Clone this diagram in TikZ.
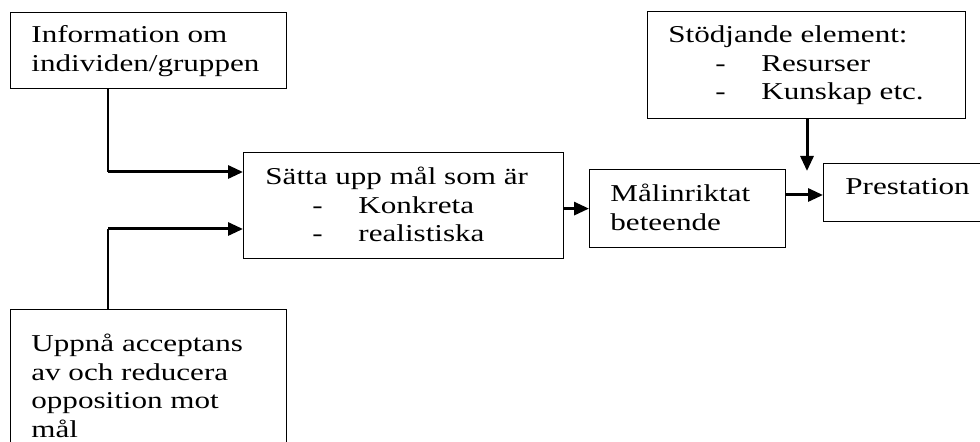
\documentclass[tikz,border=0pt]{standalone}
\usepackage{fontspec}
\setmainfont[FakeStretch=1.285]{Liberation Serif}
\usetikzlibrary{arrows.meta,positioning,calc}
\newcommand{\punkt}[1]{\hspace*{23.5pt}\makebox[23pt][l]{-}#1}
\tikzset{x=0.5pt,y=-0.5pt,
    ruta/.style={draw,line width=0.6pt,anchor=north west,inner sep=0pt},
    txt/.style={anchor=base west,align=left,inner sep=0pt,
        font=\fontsize{12.1}{14.25}\selectfont},
    tunn/.style={line width=0.6pt},
    pil/.style={line width=1.5pt,-{Triangle[length=7.5pt,width=6.5pt]}}}

\begin{document}
\begin{tikzpicture}
\clip (0,0) rectangle (980,442);
% rutorna
\node[ruta,minimum width=138pt,minimum height=38pt]   (info)  at (10,12)  {};
\node[ruta,minimum width=138pt,minimum height=75pt]   (uppna) at (10,309) {};
\node[ruta,minimum width=160pt,minimum height=53pt]   (mal)   at (243,152) {};
\node[ruta,minimum width=98pt,minimum height=39pt]    (beteende) at (589,169) {};
\node[ruta,minimum width=100pt,minimum height=29pt]   (prest) at (823,163) {};
\node[ruta,minimum width=159pt,minimum height=53.5pt] (stod)  at (647,11)  {};
% texterna (base = sista raden)
\node[txt] (tinfo)  at (31,71.5)   {Information om\\individen/gruppen};
\node[txt] (tuppna) at (31,437.5)  {Uppnå acceptans\\av och reducera\\opposition mot\\mål};
\node[txt] (tmal)   at (265,242)   {Sätta upp mål som är\\\punkt{Konkreta}\\\punkt{realistiska}};
\node[txt] (tbet)   at (610,230.5) {Målinriktat\\beteende};
\node[txt] (tprest) at (845,195)   {Prestation};
\node[txt] (tstod)  at (668,100)   {Stödjande element:\\\punkt{Resurser}\\\punkt{Kunskap etc.}};
% pilarna
\coordinate (k1) at (108,172);
\coordinate (k2) at (108,229);
\coordinate (k3) at (800,195);
\coordinate (k4) at (807,171);
\draw[tunn] (info.south -| k1) -- (k1);
\draw[pil]  (k1) -- (k1 -| mal.west);
\draw[tunn] (uppna.north -| k2) -- (k2);
\draw[pil]  (k2) -- (k2 -| mal.west);
\draw[pil]  (mal.east |- beteende.west) -- (beteende.west);
\draw[pil]  (beteende.east |- k3) -- (k3 -| prest.west);
\draw[pil]  (stod.south -| k4) -- (k4);
\end{tikzpicture}
\end{document}
